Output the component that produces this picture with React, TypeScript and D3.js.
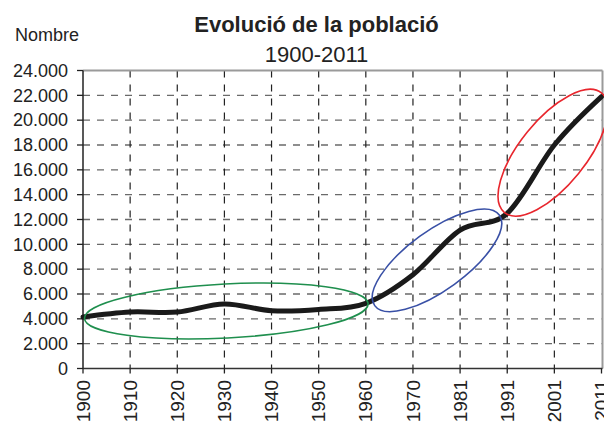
import React from "react";
import * as d3 from "d3";

const years = ["1900", "1910", "1920", "1930", "1940", "1950", "1960", "1970", "1981", "1991", "2001", "2011"];
const population = [4150, 4550, 4550, 5200, 4650, 4750, 5250, 7550, 11150, 12500, 18000, 21900];
const yTicks = [0, 2000, 4000, 6000, 8000, 10000, 12000, 14000, 16000, 18000, 20000, 22000, 24000];
const title = "Evolució de la població";
const subtitle = "1900-2011";
const yAxisLabel = "Nombre";
// ellipse annotations: center as (category position, value)
const ellipseCenterPos = [3.04, 7.51, 9.97];
const ellipseCenterValue = [4630, 8710, 17380];

const ellipseStyle = [
  { rx: 142, ry: 27, angle: -3, color: "#1f8f4e" },
  { rx: 77, ry: 29.6, angle: -36, color: "#3950a6" },
  { rx: 77, ry: 33, angle: -51, color: "#e8262d" },
];

const W = 604;
const H = 422;
const L = 83;
const R = 601.5;
const T = 70.5;
const B = 368.5;
const FONT = "'Liberation Sans', Arial, Helvetica, sans-serif";

export default function App() {
  const x = d3.scalePoint<string>().domain(years).range([L, R]);
  const y = d3.scaleLinear().domain([0, 24000]).range([B, T]);
  const step = x.step();
  const posToX = (p: number) => L + p * step;

  const line = d3
    .line<number>()
    .x((_, i) => x(years[i]) as number)
    .y((d) => y(d))
    .curve(d3.curveCardinal.tension(0));

  const fmt = (v: number) => d3.format(",")(v).replace(/,/g, ".");

  return (
    <svg
      width={W}
      height={H}
      style={{ position: "absolute", left: 0, top: 0, background: "#fff" }}
      fontFamily={FONT}
    >
      <rect x={0} y={0} width={W} height={H} fill="#fff" />
      {/* horizontal grid */}
      {yTicks
        .filter((t) => t > 0 && t < 24000)
        .map((t) => (
          <line
            key={"h" + t}
            x1={L}
            x2={R}
            y1={y(t)}
            y2={y(t)}
            stroke="#6a6a6a"
            strokeWidth={1.3}
            strokeDasharray="7 7"
          />
        ))}
      {/* vertical grid */}
      {years.slice(1, -1).map((c) => (
        <line
          key={"v" + c}
          x1={x(c)}
          x2={x(c)}
          y1={T}
          y2={B}
          stroke="#222"
          strokeWidth={1.2}
          strokeDasharray="7 7"
        />
      ))}
      {/* top & right border */}
      <line x1={L} x2={R + 1} y1={T} y2={T} stroke="#9a9a9a" strokeWidth={2} />
      <line x1={R + 1} x2={R + 1} y1={T} y2={B} stroke="#9a9a9a" strokeWidth={2} />
      {/* axes */}
      <line x1={L} x2={L} y1={T} y2={B} stroke="#222" strokeWidth={1.5} />
      <line x1={L} x2={R + 1} y1={B} y2={B} stroke="#333" strokeWidth={1.5} />
      {yTicks.map((t) => (
        <g key={"yt" + t}>
          <line x1={L - 6} x2={L} y1={y(t)} y2={y(t)} stroke="#222" strokeWidth={1.3} />
          <text
            x={68}
            y={y(t)}
            dy="0.35em"
            textAnchor="end"
            fontSize={18}
            fill="#222"
          >
            {fmt(t)}
          </text>
        </g>
      ))}
      {years.map((c) => (
        <g key={"xt" + c}>
          <line x1={x(c)} x2={x(c)} y1={B} y2={B + 5} stroke="#222" strokeWidth={1.3} />
          <text
            transform={`translate(${x(c)},${B + 11.5}) rotate(-90)`}
            textAnchor="end"
            dy="0.35em"
            fontSize={19}
            fill="#222"
          >
            {c}
          </text>
        </g>
      ))}
      {/* data line */}
      <path
        d={line(population) || ""}
        fill="none"
        stroke="#1a1a1a"
        strokeWidth={5}
        strokeLinejoin="round"
        strokeLinecap="round"
      />
      {/* ellipse annotations */}
      {ellipseCenterPos.map((p, i) => {
        const s = ellipseStyle[i];
        const cx = posToX(p);
        const cy = y(ellipseCenterValue[i]);
        return (
          <ellipse
            key={"e" + i}
            cx={cx}
            cy={cy}
            rx={s.rx}
            ry={s.ry}
            transform={`rotate(${s.angle},${cx},${cy})`}
            fill="none"
            stroke={s.color}
            strokeWidth={1.6}
          />
        );
      })}
      {/* titles */}
      <text x={316.5} y={32.3} textAnchor="middle" fontSize={22} fontWeight="bold" fill="#222">
        {title}
      </text>
      <text x={316.5} y={61.5} textAnchor="middle" fontSize={22} fill="#222">
        {subtitle}
      </text>
      <text x={15} y={40.7} fontSize={18} fill="#222">
        {yAxisLabel}
      </text>
    </svg>
  );
}
